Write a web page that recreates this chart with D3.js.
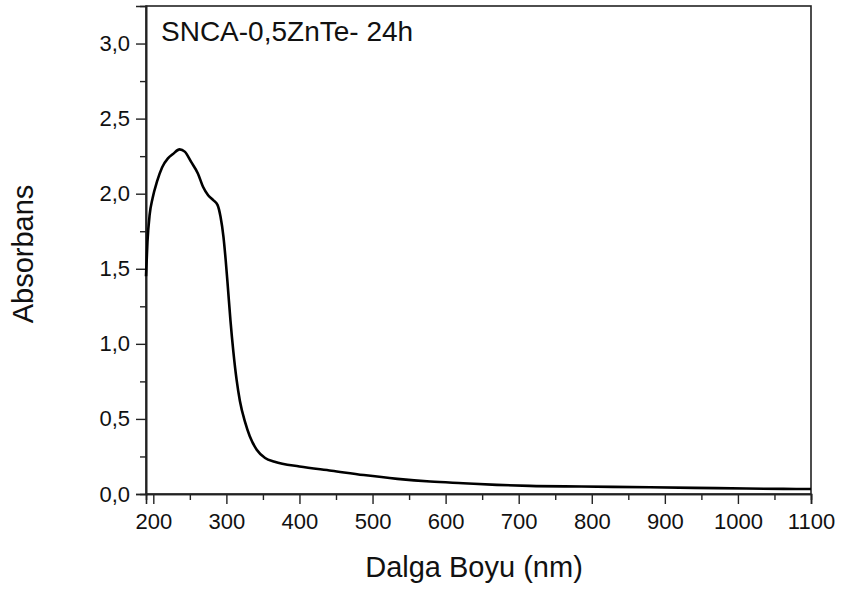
<!DOCTYPE html>
<html>
<head>
<meta charset="utf-8">
<script src="https://cdn.jsdelivr.net/npm/d3@7"></script>
<style>
  html, body { margin: 0; padding: 0; background: #fff; }
  svg { display: block; font-family: "Liberation Sans", Arial, sans-serif; }
</style>
</head>
<body>
<svg id="chart" width="843" height="590"></svg>
<script>
// UV-Vis absorption spectrum, SNCA-0,5ZnTe after 24 h
const wavelength = [190, 192, 195, 199, 205, 212, 220, 227, 236, 243, 252, 261, 268, 275, 282, 288, 292, 296, 299, 302, 305.5, 309.5, 314, 318.5, 325.5, 332, 341.5, 353, 366, 400, 444, 488, 534, 579, 624, 670, 715, 786, 880, 971, 1062, 1100];
const absorbance = [1.45, 1.68, 1.86, 1.97, 2.08, 2.175, 2.235, 2.265, 2.295, 2.28, 2.21, 2.135, 2.046, 1.99, 1.957, 1.924, 1.846, 1.713, 1.56, 1.38, 1.16, 0.95, 0.76, 0.62, 0.48, 0.385, 0.295, 0.24, 0.215, 0.183, 0.155, 0.126, 0.101, 0.083, 0.072, 0.061, 0.054, 0.050, 0.045, 0.039, 0.034, 0.033];

const xTicks = [200, 300, 400, 500, 600, 700, 800, 900, 1000, 1100];
const yTicks = [0, 0.5, 1.0, 1.5, 2.0, 2.5, 3.0];
const xMinorTicks = d3.range(250, 1100, 100);
const yMinorTicks = [0.25, 0.75, 1.25, 1.75, 2.25, 2.75];

const sampleLabel = "SNCA-0,5ZnTe- 24h";
const xTitle = "Dalga Boyu (nm)";
const yTitle = "Absorbans";

const svg = d3.select("#chart");
const plot = { left: 146, right: 811, top: 6, bottom: 494 };

const x = d3.scaleLinear().domain([190, 1100]).range([plot.left, plot.right]);
const y = d3.scaleLinear().domain([0, 3.25]).range([plot.bottom, plot.top]);

const fmt = d => d3.format(".1f")(d).replace(".", ",");
const ink = "#111";

// frame
svg.append("rect")
  .attr("x", plot.left).attr("y", plot.top)
  .attr("width", plot.right - plot.left).attr("height", plot.bottom - plot.top)
  .attr("fill", "none").attr("stroke", "#222").attr("stroke-width", 1.6);

// x axis: major + minor ticks
svg.append("g").attr("transform", `translate(0,${plot.bottom})`)
  .call(d3.axisBottom(x).tickValues(xTicks).tickSize(10).tickPadding(9).tickFormat(d3.format("d")));
svg.append("g").attr("transform", `translate(0,${plot.bottom})`)
  .call(d3.axisBottom(x).tickValues(xMinorTicks).tickSize(6).tickFormat(""));

// y axis: major + minor ticks
svg.append("g").attr("transform", `translate(${plot.left},0)`)
  .call(d3.axisLeft(y).tickValues(yTicks).tickSize(10).tickPadding(6).tickFormat(fmt));
svg.append("g").attr("transform", `translate(${plot.left},0)`)
  .call(d3.axisLeft(y).tickValues(yMinorTicks).tickSize(6).tickFormat(""));

svg.selectAll(".domain").attr("stroke", "#222").attr("stroke-width", 1.6);
svg.selectAll(".tick line").attr("stroke", "#222").attr("stroke-width", 1.4);
svg.selectAll(".tick text")
  .attr("font-size", 22).attr("fill", ink)
  .attr("font-family", "'Liberation Sans', Arial, sans-serif");

// spectrum
const line = d3.line()
  .x((d, i) => x(wavelength[i]))
  .y(d => y(d))
  .curve(d3.curveMonotoneX);

svg.append("path")
  .datum(absorbance)
  .attr("d", line)
  .attr("fill", "none")
  .attr("stroke", "#000")
  .attr("stroke-width", 2.6)
  .attr("stroke-linejoin", "round");

// sample label
svg.append("text")
  .attr("x", 161).attr("y", 41)
  .attr("font-size", 28).attr("fill", ink)
  .text(sampleLabel);

// axis titles
svg.append("text")
  .attr("x", 474).attr("y", 577)
  .attr("text-anchor", "middle")
  .attr("font-size", 29).attr("fill", ink)
  .text(xTitle);

svg.append("text")
  .attr("transform", "translate(33,254) rotate(-90)")
  .attr("text-anchor", "middle")
  .attr("font-size", 29).attr("fill", ink)
  .text(yTitle);
</script>
</body>
</html>
